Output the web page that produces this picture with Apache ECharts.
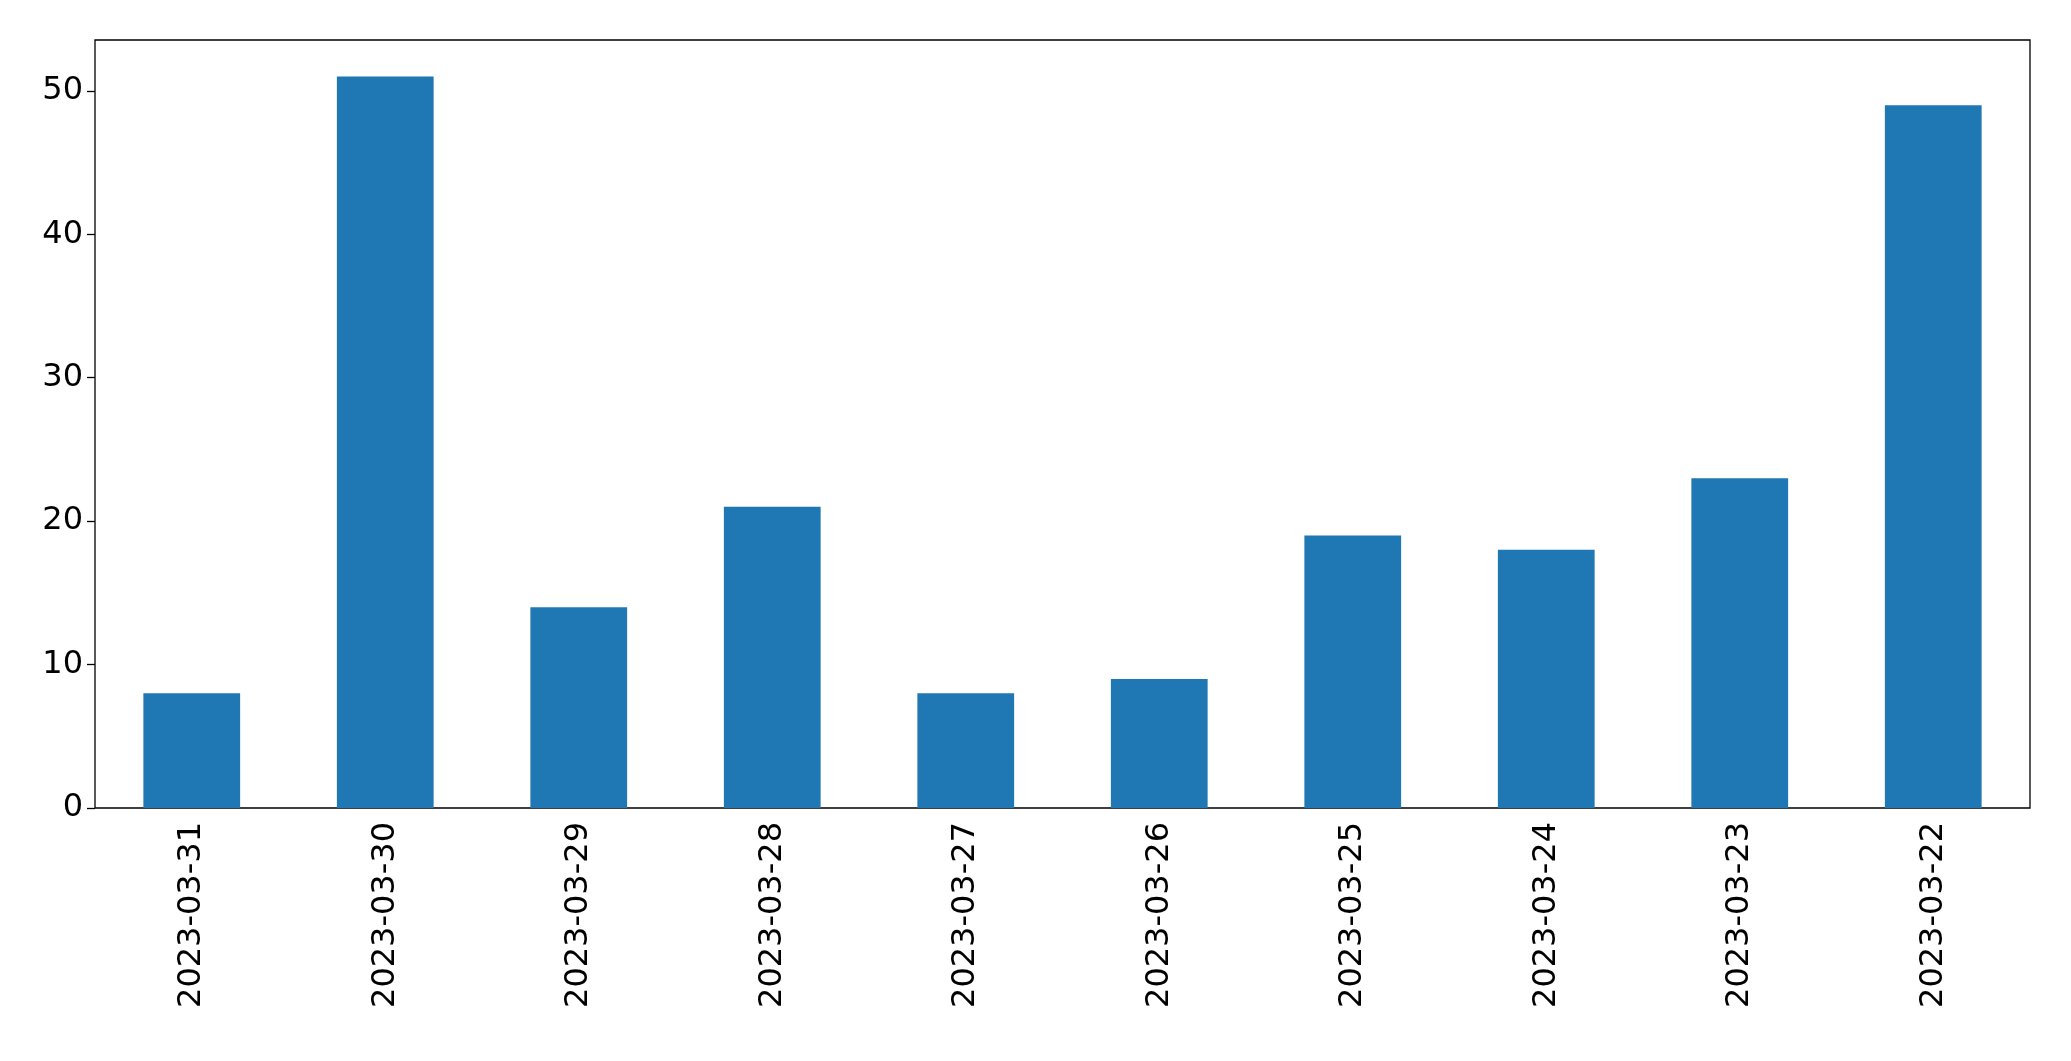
<!DOCTYPE html>
<html><head><meta charset="utf-8">
<script src="https://cdn.jsdelivr.net/npm/echarts@6/dist/echarts.min.js"></script>
<style>html,body{margin:0;padding:0;background:#fff}#c{width:2071px;height:1061px}</style>
</head><body><div id="c"></div>
<script>
const categories = ["2023-03-31","2023-03-30","2023-03-29","2023-03-28","2023-03-27","2023-03-26","2023-03-25","2023-03-24","2023-03-23","2023-03-22"];
const values = [8, 51, 14, 21, 8, 9, 19, 18, 23, 49];
const yTicks = [0, 10, 20, 30, 40, 50];
const font = "DejaVu Sans";
const chart = echarts.init(document.getElementById('c'), null, {renderer:'canvas'});
chart.setOption({
  animation:false,
  grid:{left:95, right:41, top:40, bottom:253, show:true, borderColor:'#000', borderWidth:1.3, backgroundColor:'transparent'},
  xAxis:{type:'category', data:categories,
    axisLine:{show:false}, axisTick:{alignWithLabel:true, length:8, lineStyle:{color:'#000', width:1.3}},
    axisLabel:{rotate:90, fontSize:32, color:'#000', fontFamily:font, margin:14}},
  yAxis:{type:'value', min:0, max:Math.max(...values)*1.05, interval:10,
    splitLine:{show:false}, axisLine:{show:false},
    axisTick:{show:true, length:8, lineStyle:{color:'#000', width:1.3}},
    axisLabel:{fontSize:32, color:'#000', fontFamily:font, margin:12, showMaxLabel:false,
      formatter:v=>yTicks.includes(v)?String(v):''}},
  series:[{type:'bar', data:values, barWidth:'50%', itemStyle:{color:'#1f77b4'}}]
});
</script></body></html>
